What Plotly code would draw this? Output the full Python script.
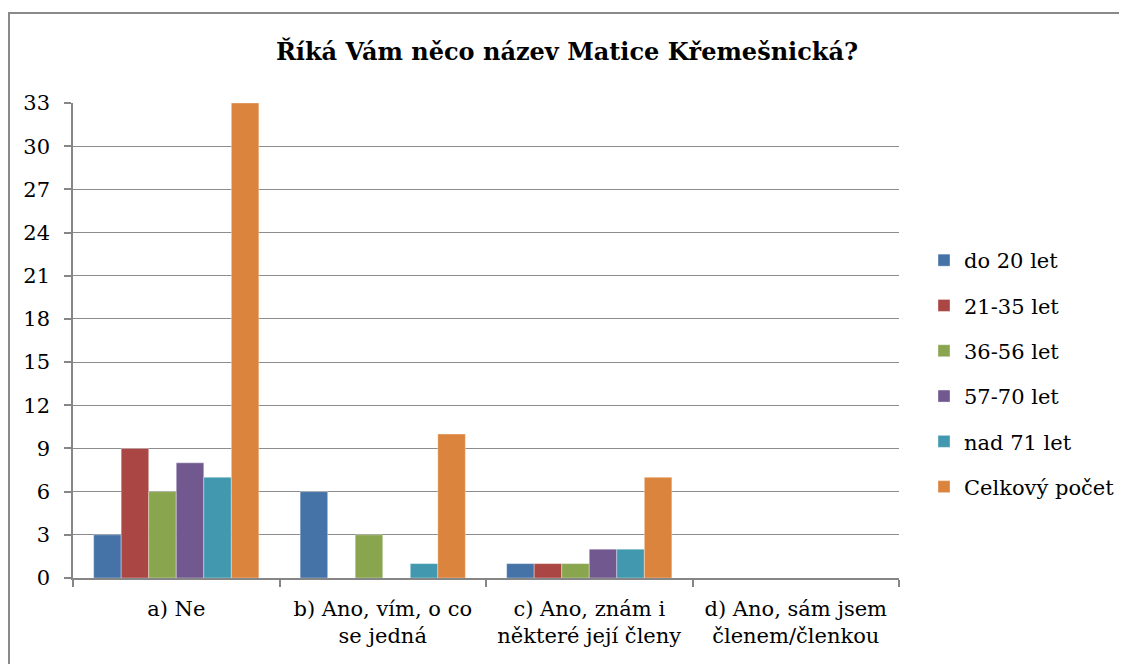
import plotly.graph_objects as go

categories = ["a) Ne", "b) Ano, vím, o co<br>se jedná", "c) Ano, znám i<br>některé její členy", "d) Ano, sám jsem<br>členem/členkou"]
series_names = ["do 20 let", "21-35 let", "36-56 let", "57-70 let", "nad 71 let", "Celkový počet"]
do20 = [3, 6, 1, 0]
v21_35 = [9, 0, 1, 0]
v36_56 = [6, 3, 1, 0]
v57_70 = [8, 0, 2, 0]
nad71 = [7, 1, 2, 0]
celkem = [33, 10, 7, 0]
values = [do20, v21_35, v36_56, v57_70, nad71, celkem]
colors = ["#4572A7", "#AA4643", "#89A54E", "#71588F", "#4198AF", "#DB843D"]
y_ticks = [0, 3, 6, 9, 12, 15, 18, 21, 24, 27, 30, 33]

fig = go.Figure()
for name, vals, col in zip(series_names, values, colors):
    fig.add_trace(go.Bar(
        x=categories, y=vals, name=name, legendgroup=name,
        marker=dict(color=col, line=dict(color="rgba(255,255,255,0.6)", width=0.6)),
    ))

font_family = "DejaVu Serif"
OFF = 8  # page body offset
W, H = 1127, 664
L = 73 - OFF
T = 103 - OFF
R = W - (899 - OFF)
B = H - (578 - OFF)
pw = W - L - R
ph = H - T - B

def px_x(x):
    return (x - 73) / pw

def px_y(y):
    return (578 - y) / ph

fig.update_layout(
    width=W, height=H,
    margin=dict(l=L, r=R, t=T, b=B),
    paper_bgcolor="white", plot_bgcolor="white",
    barmode="group", bargap=0.2, bargroupgap=0,
    font=dict(family=font_family, size=21, color="black"),
    title=dict(text="<b>Říká Vám něco název Matice Křemešnická?</b>",
               x=(567 - OFF) / W, xanchor="center", y=1 - (52 - OFF) / H, yanchor="middle",
               font=dict(family=font_family, size=24, color="black")),
    legend=dict(x=px_x(924), xanchor="left", y=px_y(240), yanchor="top",
                font=dict(family=font_family, size=21, color="black"),
                tracegroupgap=15, itemwidth=30, bgcolor="rgba(0,0,0,0)"),
    xaxis=dict(showline=True, linecolor="#868686", linewidth=1.5,
               ticks="outside", ticklen=7, tickcolor="#868686", tickwidth=1.5,
               tickson="boundaries", showgrid=False, ticklabelstandoff=11,
               tickfont=dict(family=font_family, size=21, color="black")),
    yaxis=dict(range=[0, 33], tickvals=y_ticks, showgrid=True, gridcolor="#8c8c8c", gridwidth=1.2,
               showline=True, linecolor="#868686", linewidth=1.5,
               ticks="outside", ticklen=7, tickcolor="#868686", tickwidth=1.5,
               zeroline=False, ticklabelstandoff=10,
               tickfont=dict(family=font_family, size=21, color="black")),
)

fig.add_shape(type="rect", xref="paper", yref="paper",
              x0=px_x(9), x1=px_x(1140),
              y0=px_y(13), y1=px_y(690),
              line=dict(color="#8a8a8a", width=2), fillcolor="rgba(0,0,0,0)", layer="below")

fig.write_html("out.html")
